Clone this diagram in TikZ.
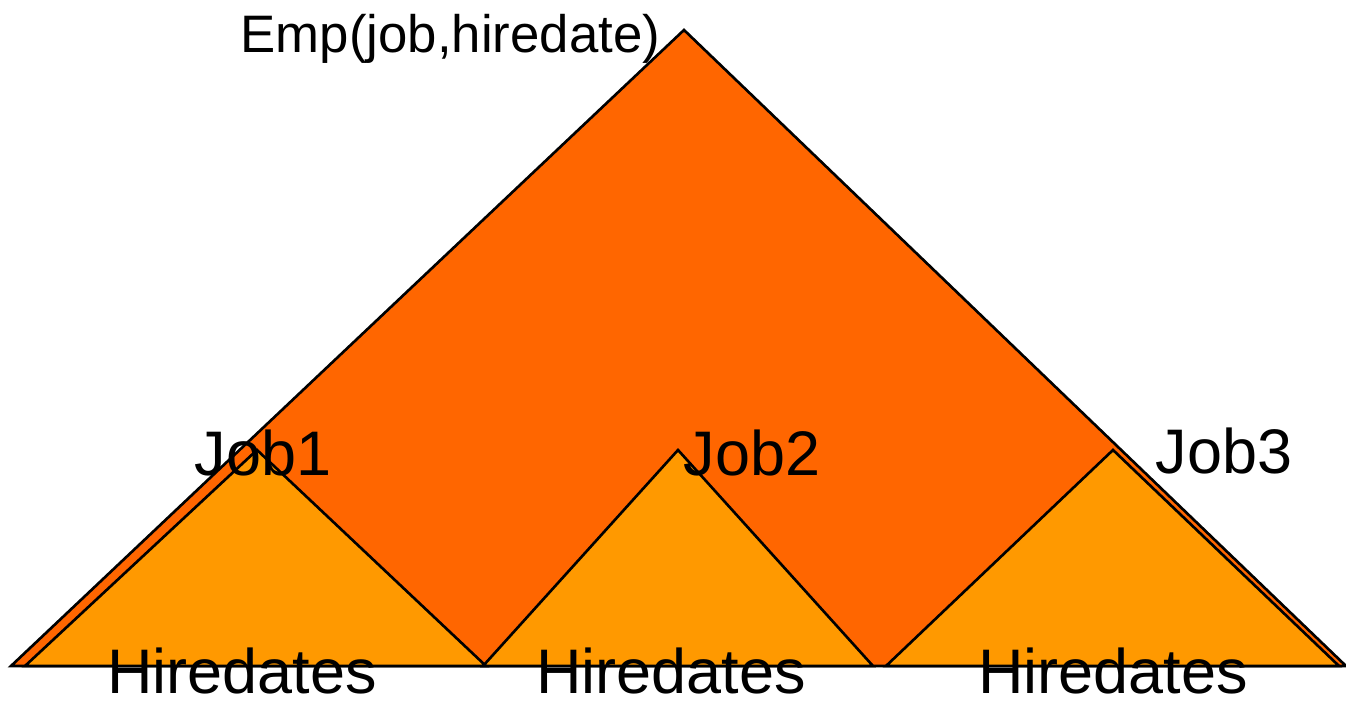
\documentclass[tikz,border=0pt]{standalone}
\usepackage{fontspec}
\setmainfont{Liberation Sans}
\usepackage{tikz}

\begin{document}
\begin{tikzpicture}[x=0.01cm,y=-0.01cm]
		% Define styles for the triangles and the labels
		\tikzset{outer/.style={fill={rgb,255:red,255;green,102;blue,0}, draw=black, line width=0.75pt, line join=miter}}
		\tikzset{inner/.style={fill={rgb,255:red,255;green,153;blue,0}, draw=black, line width=0.75pt, line join=miter}}
		\tikzset{lbl/.style={inner sep=0pt, anchor=base west, font=\fontsize{17.9}{20}\selectfont}}
		
		% Fix the picture size
		\useasboundingbox (0,0) rectangle (1346,701);
		
		% Draw the big triangle
		\draw[outer] (11,666) -- (684,30) -- (1346,666) -- cycle;
		
		% Draw the three small triangles
		\draw[inner] (25,666) -- (257,450) -- (486,666) -- cycle;
		\draw[inner] (483,666) -- (678,450) -- (873,666) -- cycle;
		\draw[inner] (886,666) -- (1113,450) -- (1339,666) -- cycle;
		
		% Add labels
		\node[lbl, font=\fontsize{15}{18}\selectfont] (emp) at (240,53) {Emp(job,hiredate)};
		\node[lbl] (job1) at (194,476) {Job1};
		\node[lbl] (job2) at (683,476) {Job2};
		\node[lbl] (job3) at (1155,474) {Job3};
		\node[lbl, anchor=base] (hd1) at (242,694) {Hiredates};
		\node[lbl, anchor=base] (hd2) at (671,694) {Hiredates};
		\node[lbl, anchor=base] (hd3) at (1113,694) {Hiredates};
	\end{tikzpicture}
\end{document}
